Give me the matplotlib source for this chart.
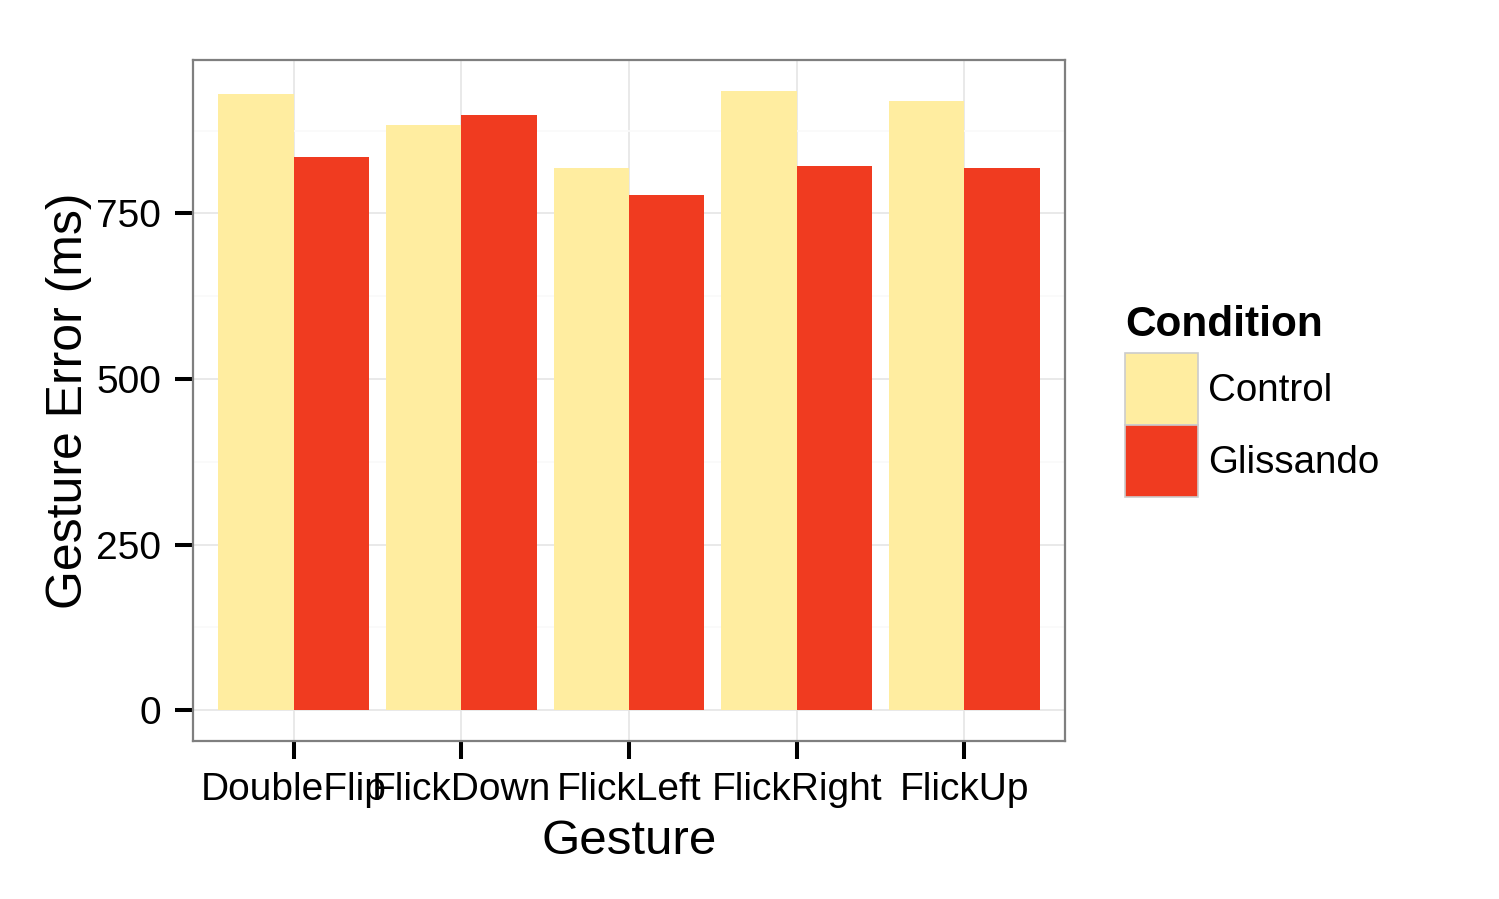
import numpy as np
import matplotlib.pyplot as plt
from matplotlib.patches import Patch

plt.rcParams['font.family'] = ['Liberation Sans', 'DejaVu Sans']

# data
gestures = ['DoubleFlip', 'FlickDown', 'FlickLeft', 'FlickRight', 'FlickUp']
control = [931, 883, 819, 935, 920]
glissando = [836, 898, 778, 822, 818]
conditions = ['Control', 'Glissando']
colors = ['#FFEDA0', '#F03B20']
yticks = [0, 250, 500, 750]

fig = plt.figure(figsize=(14.99, 8.99), dpi=100)
ax = fig.add_axes([193/1499, 1-741/899, (1065-193)/1499, (741-60)/899])

x = np.arange(len(gestures))
w = 0.45
ax.bar(x - w/2, control, width=w, color=colors[0], zorder=3)
ax.bar(x + w/2, glissando, width=w, color=colors[1], zorder=3)

ymax = max(max(control), max(glissando))
ax.set_ylim(-0.05*ymax, 1.05*ymax)
ax.set_xlim(-0.6, len(gestures) - 0.4)

ax.set_yticks(yticks)
ax.set_yticks([125, 375, 625, 875], minor=True)
ax.set_xticks(x)
ax.set_xticklabels(gestures)
ax.grid(which='major', color='#E5E5E5', linewidth=1.2, zorder=0)
ax.grid(which='minor', axis='y', color='#FAFAFA', linewidth=1.2, zorder=0)
ax.tick_params(which='minor', length=0)
ax.tick_params(which='major', length=13, width=2.9, color='black',
               labelsize=28)
ax.tick_params(axis='x', pad=9)
ax.tick_params(axis='y', pad=10)
for s in ax.spines.values():
    s.set_color('#7F7F7F')
    s.set_linewidth(1.6)

ax.set_xlabel('Gesture', fontsize=35.5, labelpad=8)
ax.set_ylabel('Gesture Error (ms)', fontsize=36, labelpad=3)

handles = [Patch(facecolor=c, edgecolor='#CCCCCC', linewidth=1.2) for c in colors]
leg = fig.legend(handles, conditions, loc='upper left',
                 bbox_to_anchor=(1125/1499, 1-305/899), frameon=False,
                 fontsize=27.7, title='Condition',
                 title_fontproperties={'weight': 'bold', 'size': 30.5},
                 handlelength=1.9, handleheight=2.5, labelspacing=0,
                 handletextpad=0.26, borderpad=0, borderaxespad=0)
leg._legend_box.align = 'left'
leg._legend_box.sep = 6

fig.savefig('out.png', dpi=100)
